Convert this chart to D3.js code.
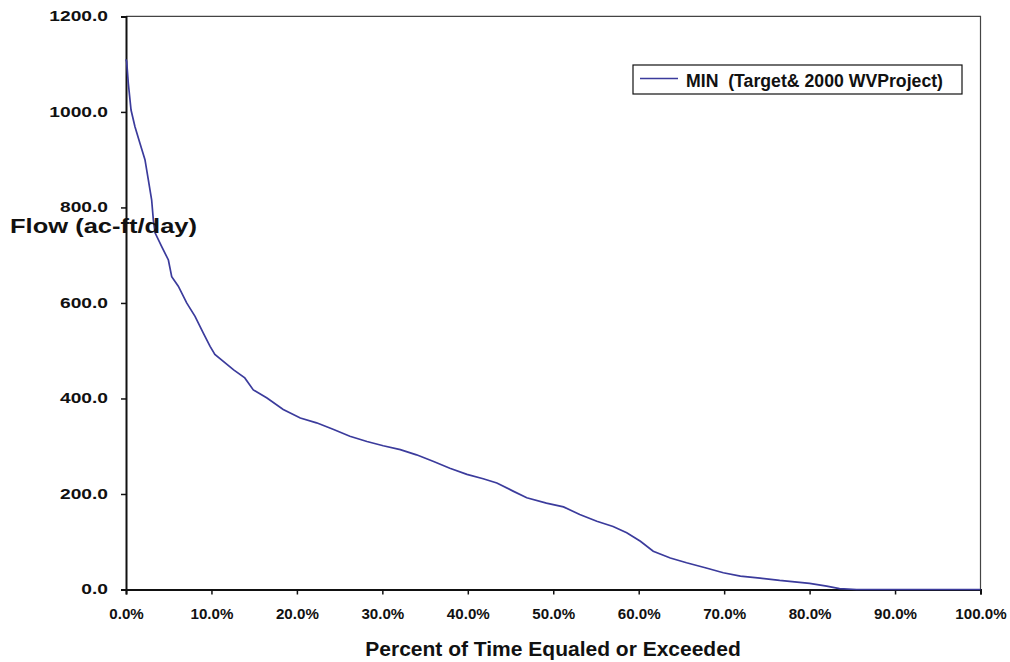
<!DOCTYPE html>
<html><head><meta charset="utf-8">
<script src="https://cdn.jsdelivr.net/npm/d3@7"></script>
<style>body{margin:0;background:#fff}svg{display:block}</style>
</head><body>
<script>
const seriesName = "MIN  (Target& 2000 WVProject)";
const xTitle = "Percent of Time Equaled or Exceeded";
const yTitle = "Flow (ac-ft/day)";
const xTicks = [0,10,20,30,40,50,60,70,80,90,100];
const yTicks = [0,200,400,600,800,1000,1200];
const pct  = [0,0.08,0.27,0.59,1.05,1.64,2.22,2.61,3.0,3.2,3.4,4.18,4.96,5.35,6.12,7.1,8.08,9.05,9.84,10.4,12.6,13.9,14.9,16.5,18.4,20.4,22.3,24.3,26.2,28.2,30.1,32.1,34.0,36.0,37.9,39.9,41.8,43.4,45.3,46.9,49.2,51.2,53.1,55.1,57.0,58.6,60.2,61.7,63.7,65.6,67.9,69.9,71.9,74.2,76.5,80.0,82.0,83.5,85.5,90,95,100];
const flow = [1110,1105,1060,1004,969,934,900,858,816,774,747,718,690,655,635,600,572,537,509,492,460,443,418,401,377,359,349,335,321,310,301,293,282,268,254,241,232,223,206,192,181,173,157,143,132,119,101,80,66,56,45,35,28,24,19,13,7,2,0,0,0,0];

const W=1010,H=662;
const L=126,R=980.5,T=16.4,B=589.5;
const svg=d3.select("body").append("svg").attr("width",W).attr("height",H);
const x=d3.scaleLinear().domain([0,100]).range([L,R]);
const y=d3.scaleLinear().domain([0,1200]).range([B,T]);

// frame top/right
svg.append("path").attr("d",`M${L},${T}H${R}V${B}`).attr("fill","none").attr("stroke","#444").attr("stroke-width",1.2);

const ff="'Liberation Sans', Arial, sans-serif";
const ya=svg.append("g").attr("transform",`translate(${L},0)`)
  .call(d3.axisLeft(y).tickValues(yTicks).tickFormat(d=>d3.format(".1f")(d)).tickSizeOuter(0).tickSize(5).tickPadding(13));
const xa=svg.append("g").attr("transform",`translate(0,${B})`)
  .call(d3.axisBottom(x).tickValues(xTicks).tickFormat(d=>d3.format(".1f")(d)+"%").tickSizeOuter(0).tickSize(5).tickPadding(14.5));
[ya,xa].forEach(g=>{
  g.select(".domain").attr("stroke","#111").attr("stroke-width",2);
  g.selectAll(".tick line").attr("stroke","#111").attr("stroke-width",1.5);
  g.selectAll("text").style("font",`bold 14px ${ff}`).attr("fill","#111");
});
ya.selectAll("text").each(function(){const w=this.getComputedTextLength();d3.select(this).attr("textLength",w*1.37).attr("lengthAdjust","spacingAndGlyphs");});
xa.selectAll("text").each(function(){const w=this.getComputedTextLength();d3.select(this).attr("textLength",w*1.08).attr("lengthAdjust","spacingAndGlyphs");});

const pts=pct.map((p,i)=>[p,flow[i]]);
svg.append("path").datum(pts).attr("fill","none").attr("stroke","#3b3b9c").attr("stroke-width",1.7)
  .attr("d",d3.line().x(d=>x(d[0])).y(d=>y(d[1])));

svg.append("text").attr("x",553).attr("y",656).attr("text-anchor","middle")
  .style("font",`bold 21px ${ff}`).attr("fill","#111").text(xTitle);
svg.append("text").attr("x",10).attr("y",233)
  .attr("textLength",187).attr("lengthAdjust","spacingAndGlyphs")
  .style("font",`bold 21px ${ff}`).attr("fill","#111").text(yTitle);

// legend
const lg=svg.append("g");
lg.append("rect").attr("x",633).attr("y",65).attr("width",329).attr("height",29).attr("fill","#fff").attr("stroke","#111").attr("stroke-width",1.2);
lg.append("line").attr("x1",640).attr("x2",678).attr("y1",78.5).attr("y2",78.5).attr("stroke","#3b3b9c").attr("stroke-width",1.6);
lg.append("text").attr("x",686).attr("y",87).attr("textLength",257).attr("lengthAdjust","spacingAndGlyphs")
  .style("font",`bold 18px ${ff}`).attr("fill","#111").attr("xml:space","preserve").text(seriesName);
</script>
</body></html>
